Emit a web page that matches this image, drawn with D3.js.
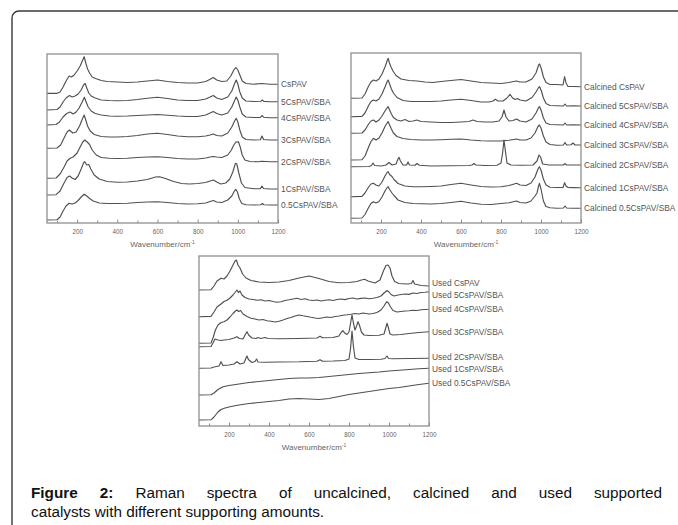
<!DOCTYPE html>
<html>
<head>
<meta charset="utf-8">
<script src="https://cdn.jsdelivr.net/npm/d3@7"></script>
<style>
  html, body { margin: 0; padding: 0; background: #fff; }
  svg { display: block; }
</style>
</head>
<body>
<svg id="fig" width="678" height="525"></svg>
<script>
// Raman shift axis (cm^-1)
const wavenumberDomain = [50, 1200];
const majorTicks = [200, 400, 600, 800, 1000, 1200];
const minorTicks = [100, 300, 500, 700, 900, 1100];

// ---------- Uncalcined samples: [wavenumber, stacked intensity (a.u.)] ----------
const uncalcinedLabels = ["CsPAV", "5CsPAV/SBA", "4CsPAV/SBA", "3CsPAV/SBA", "2CsPAV/SBA", "1CsPAV/SBA", "0.5CsPAV/SBA"];
const uncalcinedCsPAV = [[50,129.7],[100,129.7],[115,131],[130,136],[145,142],[160,147],[172,146],[185,148],[200,152],[215,157],[228,163],[235,166.3],[243,160],[252,154],[262,150],[275,146],[292,144.5],[320,142.5],[350,141.5],[400,141],[450,140.5],[500,141],[550,142],[600,143],[650,141.5],[700,140.5],[750,140],[800,140],[840,141.5],[860,143.5],[878,145.5],[895,143],[920,141.5],[945,142],[965,147],[980,153],[990,155.5],[1000,153],[1010,148],[1022,142],[1040,139.5],[1080,138.8],[1120,139.5],[1160,138.8],[1200,138.7]];
const uncalcined5 = [[50,113],[100,113.5],[115,116],[130,121],[145,125],[162,127.5],[175,126],[190,127],[205,129],[220,133],[232,138],[240,139.5],[248,135],[258,130],[270,127],[290,125],[320,123],[360,122.5],[400,122.3],[450,122.5],[500,123.5],[550,124.8],[600,125.7],[650,124.5],[700,123],[750,122.5],[800,122.5],[840,124],[862,126],[878,127.5],[895,125],[920,123.5],[950,126],[970,132],[985,140],[992,143],[1000,139],[1010,131],[1022,125],[1040,122],[1080,121.5],[1115,121.8],[1122,123],[1130,121.6],[1160,121.3],[1200,121.3]];
const uncalcined4 = [[50,98],[95,98.5],[112,101],[130,106],[148,109.5],[165,111],[180,109],[195,111],[210,115],[225,121],[236,125.7],[245,121],[255,116],[270,112],[290,109.5],[320,108],[360,107],[400,106.8],[450,107],[500,107.5],[550,108],[600,108.5],[650,107.8],[700,107],[750,106.5],[800,106.5],[840,108],[862,110],[878,111.5],[895,109.5],[920,108],[950,110],[970,116],[985,123],[992,126],[1000,123],[1010,116],[1022,109],[1040,106],[1080,105.5],[1112,105.5],[1120,107.5],[1128,105.8],[1160,105.3],[1200,105.3]];
const uncalcined3 = [[50,74.7],[100,75],[118,78],[135,85],[150,91],[162,93],[178,90],[195,91],[212,97],[226,104],[235,108],[243,103],[252,97],[265,92],[285,88.5],[320,86.5],[360,86],[400,86],[450,86.5],[500,87.5],[550,89],[600,89.7],[650,88.5],[700,87],[750,86.3],[800,86.3],[840,87],[862,88],[878,89],[895,87.5],[920,87],[950,90],[970,96],[985,102.5],[992,104.7],[1000,101],[1010,93],[1022,86],[1040,83.5],[1080,83],[1112,83.3],[1120,87],[1128,83.5],[1160,83],[1200,83]];
const uncalcined2 = [[50,44.7],[95,45],[115,49],[135,56],[150,62],[165,64.7],[180,66],[200,70],[215,76],[228,81],[238,83],[250,81],[262,78.5],[275,73],[295,68],[320,65.5],[360,64.7],[400,64.5],[450,64.8],[500,65.5],[550,66],[600,66.3],[650,65.5],[700,64.5],[750,64],[800,64],[840,65],[862,66],[878,66.5],[895,66],[920,65.5],[950,68],[968,73],[980,78],[990,81],[1003,81.3],[1012,76],[1022,68],[1035,63],[1060,61.5],[1100,61.2],[1120,61.8],[1160,61.3],[1200,61.3]];
const uncalcined1 = [[50,28],[95,28.3],[115,32],[135,40],[150,45.5],[162,47],[175,45],[190,43.5],[205,47],[220,54],[232,60],[238,61.3],[248,58],[258,58.5],[268,54],[285,48],[310,44],[350,41.5],[400,40.8],[450,41],[500,42],[550,43.5],[590,46],[610,46.3],[640,44.5],[680,41.5],[720,39.5],[760,39],[800,39.5],[840,40.5],[862,42],[878,43],[895,41],[915,39],[940,40],[960,44],[975,51],[988,59.7],[995,59],[1005,50],[1018,40],[1035,35.5],[1080,34.3],[1112,34.3],[1120,37],[1128,34.5],[1160,34],[1200,34]];
const uncalcined05 = [[50,3],[100,3.3],[115,6],[130,12],[145,17],[160,19.7],[175,19],[190,20],[205,22.5],[220,26],[235,28.7],[248,27],[262,24.5],[280,22],[310,20],[350,19.5],[400,19.5],[450,19.8],[500,20.5],[550,21],[600,21.3],[650,20.5],[700,19.5],[750,19],[800,19.3],[840,20],[862,21.5],[878,22.5],[895,21],[920,20.5],[950,23],[970,27],[983,32],[990,33.7],[998,31],[1008,24],[1020,19.5],[1040,18.3],[1080,18],[1115,18.3],[1122,19.5],[1130,18.2],[1160,18],[1200,18]];

// ---------- Calcined samples ----------
const calcinedLabels = ["Calcined CsPAV", "Calcined 5CsPAV/SBA", "Calcined 4CsPAV/SBA", "Calcined 3CsPAV/SBA", "Calcined 2CsPAV/SBA", "Calcined 1CsPAV/SBA", "Calcined 0.5CsPAV/SBA"];
const calcinedCsPAV = [[50,124.7],[105,125],[120,129],[138,137],[150,141],[162,143],[175,142],[190,144],[205,149],[220,156],[232,163],[236,164.7],[242,160],[250,156],[260,152],[275,147.5],[300,144],[340,142.5],[380,142],[420,141],[460,140.5],[500,141.5],[550,142.5],[600,143.5],[650,142],[700,140.5],[750,140],[800,139.5],[840,140.5],[862,141.5],[878,142],[895,141],[925,141],[955,144],[975,150],[988,158],[993,159],[1002,154],[1012,146],[1025,140.5],[1045,138.5],[1080,138.5],[1110,138],[1118,146.3],[1125,140],[1135,136.5],[1160,136.5],[1200,136.3]];
const calcined5 = [[50,106.3],[105,106.6],[120,110],[138,117.5],[150,121.5],[162,123],[175,122],[190,124],[205,129],[220,136],[232,142],[236,143],[243,139],[252,134],[262,130],[280,125.5],[310,122.5],[350,121.5],[400,121.5],[450,121.5],[500,122],[550,123],[600,123.7],[650,122.5],[700,121],[740,121],[760,122],[772,123.8],[785,122],[810,122],[830,125],[845,128.7],[858,125],[870,123.5],[882,124.5],[895,123],[925,122],[955,125.5],[975,131],[988,135.5],[993,136.3],[1002,132],[1012,125],[1025,119.5],[1045,117.5],[1080,117.3],[1112,117],[1120,119],[1128,117],[1160,117.2],[1200,117]];
const calcined4 = [[50,89.7],[105,90],[120,93],[138,99],[150,102],[162,103],[175,101],[190,103],[205,107],[220,112],[232,115.5],[236,116.3],[243,113],[252,109],[262,105.5],[280,103],[300,102],[320,103.5],[340,101.5],[360,102],[380,103],[400,101.5],[450,101],[500,100.5],[550,100.5],[600,101],[640,101.5],[660,103],[680,101.5],[720,101],[760,101],[790,102],[805,106],[815,113],[825,106],[840,102],[860,102.5],[878,104],[895,102],[925,101],[955,104],[975,110],[988,115.5],[993,116.3],[1002,112],[1012,105],[1025,100],[1045,98.5],[1080,98.3],[1112,98],[1120,100],[1128,98],[1160,98.2],[1200,98]];
const calcined3 = [[50,63],[105,63.3],[120,67],[138,76],[150,81.5],[162,84.7],[175,83],[190,85],[205,90],[220,96.5],[232,100.5],[236,101.3],[243,98],[252,94],[262,90],[280,86.5],[310,84.5],[350,83.5],[400,83],[450,83],[500,83.3],[550,83.8],[600,84],[650,83],[700,82.3],[750,82],[800,82],[840,82.8],[862,83.5],[878,84],[895,83],[925,83],[950,85],[970,90],[985,96.5],[992,98],[1000,95],[1012,87],[1025,81],[1045,78.5],[1080,77.8],[1112,78],[1120,80.5],[1128,78],[1150,78.3],[1160,80],[1170,78],[1200,78]];
const calcined2 = [[50,56.3],[140,56.5],[152,57.5],[160,60],[168,57.5],[200,57],[225,58],[240,60.5],[255,58],[275,59],[285,64],[290,65.7],[297,62],[310,58],[328,58],[335,61],[342,58],[370,57.8],[380,59.5],[392,57.8],[450,57],[550,57.2],[640,57.5],[655,58],[665,59.5],[675,58],[720,57.5],[780,57.8],[800,60],[808,70],[815,83],[822,72],[830,60],[850,58],[900,57.8],[960,58],[980,62],[990,68],[998,66],[1008,59],[1040,58],[1112,58],[1120,59.3],[1128,58],[1200,58]];
const calcined1 = [[50,26.3],[105,26.6],[120,30],[138,36],[150,39],[162,39.7],[175,38],[190,37],[205,41],[220,47],[232,51],[236,51.3],[243,48.5],[255,46.5],[265,43.5],[285,39.5],[320,37],[360,36.3],[400,36.2],[450,36.5],[500,37],[550,38.5],[600,39.7],[650,38],[700,36.5],[750,36],[800,36.3],[840,37.5],[862,38.8],[878,39.7],[895,38],[925,37.5],[950,40],[970,46],[985,54],[992,56.3],[1000,53],[1012,44],[1025,38],[1045,35.8],[1080,35.5],[1110,35.5],[1118,40.3],[1125,37],[1135,35.5],[1160,35.4],[1200,35.3]];
const calcined05 = [[50,4.7],[105,5],[120,8.5],[138,15.5],[150,19.5],[162,21.3],[175,20],[190,21.5],[205,26],[220,32],[232,35.8],[236,36.3],[243,33.5],[255,30],[265,27.5],[285,23],[320,20.5],[360,19.5],[400,19.3],[450,19],[500,19.5],[550,20.5],[600,21.7],[650,20],[700,18.8],[750,18.5],[800,19.5],[840,20.3],[862,21.3],[878,22],[895,20.5],[925,20],[950,22],[970,27],[980,30],[988,37],[992,39.7],[1000,34],[1012,22],[1025,16.5],[1045,15.2],[1080,14.8],[1112,15],[1120,17],[1128,15],[1160,14.8],[1200,14.7]];

// ---------- Used samples ----------
const usedLabels = ["Used CsPAV", "Used 5CsPAV/SBA", "Used 4CsPAV/SBA", "Used 3CsPAV/SBA", "Used 2CsPAV/SBA", "Used 1CsPAV/SBA", "Used 0.5CsPAV/SBA"];
const usedCsPAV = [[50,136],[110,136.3],[125,140],[140,145],[160,147.7],[175,147],[190,150],[205,155],[220,161],[232,165.5],[237,166],[245,161],[255,158],[268,152],[285,148],[310,145.5],[350,144],[400,143.5],[450,144],[500,145.5],[550,148],[600,150],[650,147.5],[700,144.5],[750,143.3],[800,143.5],[840,144.5],[862,146],[878,146.7],[895,145],[930,143],[955,146],[972,155],[985,160.5],[995,161],[1005,158],[1015,150],[1028,144.5],[1050,142.5],[1090,142],[1112,142.5],[1120,145.5],[1128,142],[1160,140.5],[1200,140]];
const used5 = [[50,109.3],[110,109.6],[125,114],[140,119],[160,122],[175,124.5],[190,125.8],[205,128],[220,131],[232,134],[240,136],[247,133.5],[255,135],[265,131],[280,128.5],[300,127],[320,126.5],[340,125.8],[360,126.3],[380,125],[400,125.5],[420,124.5],[440,123.8],[460,124.3],[480,125.5],[500,126.2],[520,127],[540,127.7],[560,126.5],[580,127.2],[600,126],[620,125.5],[640,126],[660,125],[680,125.8],[700,126.3],[720,125.5],[740,126.5],[760,127],[780,126.4],[800,127.5],[820,128],[840,127],[860,127.6],[880,128],[900,127.2],[920,127.8],[940,128.5],[960,130],[975,133],[990,135.5],[1000,134],[1010,131.5],[1025,130],[1040,130.8],[1060,131.5],[1080,132],[1100,131.6],[1120,133],[1140,132.5],[1160,133.5],[1180,133.8],[1200,134.3]];
const used4 = [[50,82.7],[110,83],[120,88],[132,96],[145,101],[160,103.5],[175,104.3],[190,106],[205,109],[220,112.5],[232,115],[240,116],[248,114.5],[258,115.5],[270,112],[290,109.5],[310,107.8],[330,107],[350,106],[370,106.5],[390,105.3],[410,104.7],[430,104],[450,104.8],[470,106],[490,107.5],[510,108.5],[530,110],[550,111],[570,110.2],[590,109.5],[610,108.7],[630,108],[650,107.5],[670,108.3],[690,109],[710,108.5],[730,109.5],[750,110],[770,110.8],[790,111.2],[810,111.8],[830,112.5],[850,112],[870,113],[885,112.5],[900,112],[920,112.5],[940,113.5],[960,116],[975,120],[988,124.3],[997,123],[1008,119],[1020,115.5],[1040,114],[1060,114.5],[1080,115],[1100,115.3],[1120,115.8],[1140,115.5],[1160,116.2],[1180,116.5],[1200,116.7]];
const used3 = [[50,79.3],[110,79.5],[120,83],[130,87],[145,86],[160,85.5],[175,86],[200,86.5],[225,88],[240,89.3],[252,87.5],[270,87],[283,92],[290,94.3],[298,91],[315,88],[335,87.5],[345,88.5],[360,87.5],[380,88.5],[395,87.5],[450,87.3],[550,87.5],[640,88],[655,89.8],[668,88.2],[720,88.5],[750,90],[762,94],[770,95.3],[778,93],[790,91.5],[800,94],[808,103],[815,111],[822,103],[830,96],[838,100],[845,104.3],[852,101],[862,94],[875,91],[900,90.5],[950,90.8],[975,92],[985,99],[990,102.7],[996,99],[1005,92],[1020,91],[1060,91.5],[1100,92.5],[1150,93.5],[1200,94.3]];
const used2 = [[50,57.7],[110,58],[125,59],[150,60],[160,64.3],[170,60.5],[200,61],[225,62],[240,64.3],[255,62],[275,63],[285,68],[290,70],[297,66.5],[315,63.5],[330,64.5],[338,67],[345,64],[380,63.8],[450,64],[550,64.2],[640,64.8],[655,66.3],[668,64.8],[720,65],[780,65.5],[800,67],[808,78],[815,95],[822,80],[830,68],[850,66.5],[900,66.5],[960,66.8],[980,67.5],[990,70],[998,67.5],[1020,67.2],[1100,67.5],[1200,67.7]];
const used1 = [[50,31],[110,31.2],[125,33],[145,36.5],[170,39.3],[200,40.5],[250,42],[300,43.5],[350,44.5],[400,45.5],[450,46.5],[500,47.5],[550,48],[600,48],[650,48.5],[700,49.5],[750,50.5],[800,51.5],[850,52.5],[900,53.3],[950,54],[1000,55],[1050,55.8],[1100,56.5],[1150,57.2],[1200,57.7]];
const used05 = [[50,6],[110,6.2],[125,9],[145,14],[160,16.5],[180,18],[210,19.5],[250,21],[300,22.5],[350,23.5],[400,24.5],[450,25.5],[500,27],[550,27.5],[600,27],[650,26.5],[700,27.5],[750,29.5],[800,31.5],[850,33],[900,34.5],[950,36],[1000,37.5],[1050,38.5],[1100,40],[1150,41.5],[1200,42.7]];

const captionBold = "Figure 2:";
const captionLine1 = "Raman spectra of uncalcined, calcined and used supported";
const captionLine2 = "catalysts with different supporting amounts.";

// ---------- layout ----------
const svg = d3.select("#fig");
const FONT = "'Liberation Sans', Arial, Helvetica, sans-serif";

// page frame with rounded corner
svg.append("rect")
  .attr("x", 12).attr("y", 11).attr("width", 720).attr("height", 600)
  .attr("rx", 7).attr("ry", 7)
  .attr("fill", "none").attr("stroke", "#3a3a3a").attr("stroke-width", 1.4);

const panels = [
  { box: { x: 47, y: 54, w: 231, h: 169 }, yMax: 169, labels: uncalcinedLabels,
    spectra: [uncalcinedCsPAV, uncalcined5, uncalcined4, uncalcined3, uncalcined2, uncalcined1, uncalcined05] },
  { box: { x: 351, y: 53, w: 230, h: 170 }, yMax: 170, labels: calcinedLabels,
    spectra: [calcinedCsPAV, calcined5, calcined4, calcined3, calcined2, calcined1, calcined05] },
  { box: { x: 199, y: 256, w: 230, h: 170 }, yMax: 170, labels: usedLabels,
    spectra: [usedCsPAV, used5, used4, used3, used2, used1, used05] }
];

panels.forEach(p => {
  const b = p.box;
  const g = svg.append("g");
  const x = d3.scaleLinear().domain(wavenumberDomain).range([b.x, b.x + b.w]);
  const y = d3.scaleLinear().domain([0, p.yMax]).range([b.y + b.h, b.y]);

  // spectra
  const line = d3.line().x(d => x(d[0])).y(d => y(d[1]));
  g.selectAll("path.spec").data(p.spectra).join("path")
    .attr("class", "spec")
    .attr("d", line)
    .attr("fill", "none")
    .attr("stroke", "#505050")
    .attr("stroke-width", 1.15)
    .attr("stroke-linejoin", "round");

  // plot frame
  g.append("rect")
    .attr("x", b.x).attr("y", b.y).attr("width", b.w).attr("height", b.h)
    .attr("fill", "none").attr("stroke", "#909090").attr("stroke-width", 1.3);

  // bottom axis: inward ticks, labels on the major ones
  const axisMajor = d3.axisBottom(x).tickValues(majorTicks).tickSize(-3.5).tickPadding(6.5)
    .tickFormat(d3.format("d"));
  const axisMinor = d3.axisBottom(x).tickValues(minorTicks).tickSize(-2.5).tickFormat("");
  [axisMajor, axisMinor].forEach(ax => {
    const a = g.append("g").attr("transform", `translate(0,${b.y + b.h})`).call(ax);
    a.select(".domain").remove();
    a.selectAll("line").attr("stroke", "#8c8c8c").attr("stroke-width", 1);
    a.selectAll("text").attr("fill", "#666").attr("font-size", 6.3).attr("font-family", FONT);
  });

  // axis title with superscript
  const t = g.append("text")
    .attr("x", b.x + b.w / 2).attr("y", b.y + b.h + 24)
    .attr("text-anchor", "middle")
    .attr("font-family", FONT).attr("font-size", 8).attr("fill", "#666");
  t.append("tspan").text("Wavenumber/cm");
  t.append("tspan").attr("font-size", 5).attr("dy", -3.5).text("-1");

  // series labels at the right end of each trace, nudged apart where they crowd
  const minGap = 11.5;
  const ly = p.spectra.map(s => y(s[s.length - 1][1]));
  for (let it = 0; it < 60; it++) {
    for (let i = 1; i < ly.length; i++) {
      const d = ly[i] - ly[i - 1];
      if (d < minGap) { const s = (minGap - d) / 2; ly[i - 1] -= s; ly[i] += s; }
    }
  }
  g.selectAll("text.lab").data(p.labels).join("text")
    .attr("class", "lab")
    .attr("x", b.x + b.w + 3)
    .attr("y", (d, i) => ly[i])
    .attr("dy", "0.35em")
    .attr("font-family", FONT).attr("font-size", 8.4).attr("fill", "#555")
    .text(d => d);
});

// caption, first line justified between the margins
const capLeft = 31, capRight = 662, capSize = 15.3;
const words1 = captionBold.split(" ").map(w => ({ t: w, b: true }))
  .concat(captionLine1.split(" ").map(w => ({ t: w, b: false })));
const capG = svg.append("g").attr("font-family", FONT).attr("font-size", capSize).attr("fill", "#111");
const wordNodes = capG.selectAll("text.w").data(words1).join("text")
  .attr("class", "w")
  .attr("y", 497.5)
  .attr("font-weight", d => d.b ? "bold" : "normal")
  .text(d => d.t);
const widths = wordNodes.nodes().map(n => n.getComputedTextLength());
const gap = (capRight - capLeft - d3.sum(widths)) / (widths.length - 1);
let cx = capLeft;
wordNodes.attr("x", (d, i) => { const v = cx; cx += widths[i] + gap; return v; });
capG.append("text").attr("x", capLeft).attr("y", 516.5).text(captionLine2);
</script>
</body>
</html>
